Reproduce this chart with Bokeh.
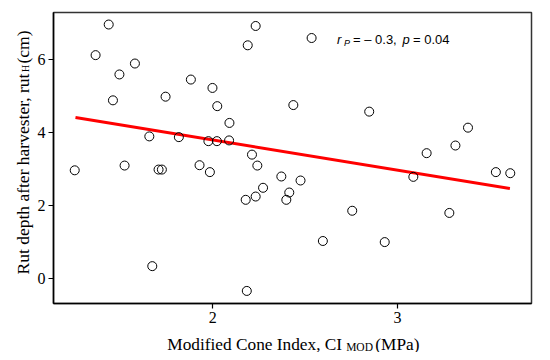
import math
from bokeh.plotting import figure
from bokeh.layouts import row, column
from bokeh.models import Range1d, Label, FixedTicker
from bokeh.core.properties import value
from bokeh.embed import file_html
from bokeh.resources import INLINE

# Data
ci_mod = [1.252, 1.365, 1.436, 1.459, 1.494, 1.522, 1.578, 1.656, 1.672, 1.706,
          1.724, 1.744, 1.816, 1.881, 1.928, 1.976, 1.984, 1.998, 2.022, 2.024,
          2.090, 2.088, 2.178, 2.184, 2.189, 2.232, 2.212, 2.232, 2.241, 2.272,
          2.371, 2.398, 2.414, 2.436, 2.475, 2.535, 2.596, 2.755, 2.847, 2.931,
          3.086, 3.158, 3.281, 3.314, 3.382, 3.533, 3.611]
rut_h = [2.96, 6.12, 6.96, 4.88, 5.59, 3.09, 5.89, 3.89, 0.33, 2.98,
         2.98, 4.98, 3.87, 5.45, 3.10, 3.76, 2.91, 5.22, 3.76, 4.72,
         4.26, 3.78, 2.15, -0.35, 6.39, 6.92, 3.39, 2.24, 3.09, 2.48,
         2.79, 2.15, 2.35, 4.75, 2.68, 6.59, 1.02, 1.85, 4.57, 0.99,
         2.78, 3.43, 1.79, 3.64, 4.13, 2.91, 2.88]
fit_x = [1.256, 3.609]
fit_y = [4.41, 2.46]
x_ticks = [2, 3]
y_ticks = [0, 2, 4, 6]

x_label_parts = ["Modified Cone Index, CI", "MOD", "(MPa)"]
y_label_parts = ["Rut depth after harvester, rut", "H", "(cm)"]

SERIF = "Liberation Serif"
SANS = "Liberation Sans"

YLAB_W = 34
MAIN_W = 508
MAIN_H = 327
XLAB_H = 25

p = figure(width=MAIN_W, height=MAIN_H, output_backend="svg", toolbar_location=None,
           x_range=Range1d(1.137, 3.726), y_range=Range1d(-0.695, 7.29),
           min_border_left=18, min_border_right=11, min_border_top=12,
           min_border_bottom=24)

p.xgrid.visible = False
p.ygrid.visible = False
p.outline_line_color = "#333333"
p.outline_line_width = 1.5

for axes in (p.xaxis, p.yaxis):
    axes.axis_line_color = "black"
    axes.axis_line_width = 1.5
    axes.major_tick_line_color = "black"
    axes.major_tick_line_width = 1.2
    axes.major_tick_out = 5
    axes.major_tick_in = 0
    axes.minor_tick_line_color = None
    axes.major_label_text_font = SERIF
    axes.major_label_text_font_size = "16px"
    axes.major_label_text_color = "black"
p.xaxis.ticker = FixedTicker(ticks=x_ticks)
p.yaxis.ticker = FixedTicker(ticks=y_ticks)
p.xaxis.major_label_standoff = 3
p.yaxis.major_label_standoff = 3

p.line(fit_x, fit_y, line_color="#ff0000", line_width=3)
p.scatter(ci_mod, rut_h, size=9, line_color="black", line_width=1,
          fill_color=None)

def lab(text, x, y, size, font=SANS, style="normal"):
    p.add_layout(Label(x=x, y=y, x_units="screen", y_units="screen", text=text,
                       text_font=font, text_font_size=size, text_font_style=style,
                       text_color="black", text_baseline="alphabetic",
                       text_align="left"))

# statistics annotation (inside the frame)
lab("r", 283.5, 264, "13px", style="italic")
lab("P", 290.5, 261, "9px", style="italic")
lab("= \u2013 0.3,", 299.5, 264, "13px")
lab("p", 349, 264, "13px", style="italic")
lab("= 0.04", 359.5, 264, "13px")


def text_fig(w, h):
    f = figure(width=w, height=h, output_backend="svg", toolbar_location=None,
               x_range=Range1d(0, w), y_range=Range1d(h, 0),
               x_axis_location=None, y_axis_location=None,
               min_border=0, min_border_left=0, min_border_right=0,
               min_border_top=0, min_border_bottom=0,
               outline_line_color=None)
    f.grid.visible = False
    return f

# x-axis label figure (below the main figure)
fx = text_fig(MAIN_W, XLAB_H)
fx.text(x=[121, 311, 342], y=[16.5, 19.5, 16.5], text=x_label_parts,
        text_font=value(SERIF), text_font_size=["17.3px", "11.5px", "17.3px"],
        text_baseline="alphabetic", text_align="left", text_color="black")

# y-axis label figure (left of the main figure), rotated
fy = text_fig(YLAB_W, MAIN_H + XLAB_H)
fy.text(x=[22, 25, 22], y=[274, 71.5, 63], text=y_label_parts,
        text_font=value(SERIF), text_font_size=["17.5px", "10px", "17.5px"],
        angle=math.pi / 2, text_baseline="alphabetic", text_align="left",
        text_color="black")

layout = row(fy, column(p, fx, spacing=0), spacing=0)

open("out.html", "w").write(file_html(layout, INLINE))
